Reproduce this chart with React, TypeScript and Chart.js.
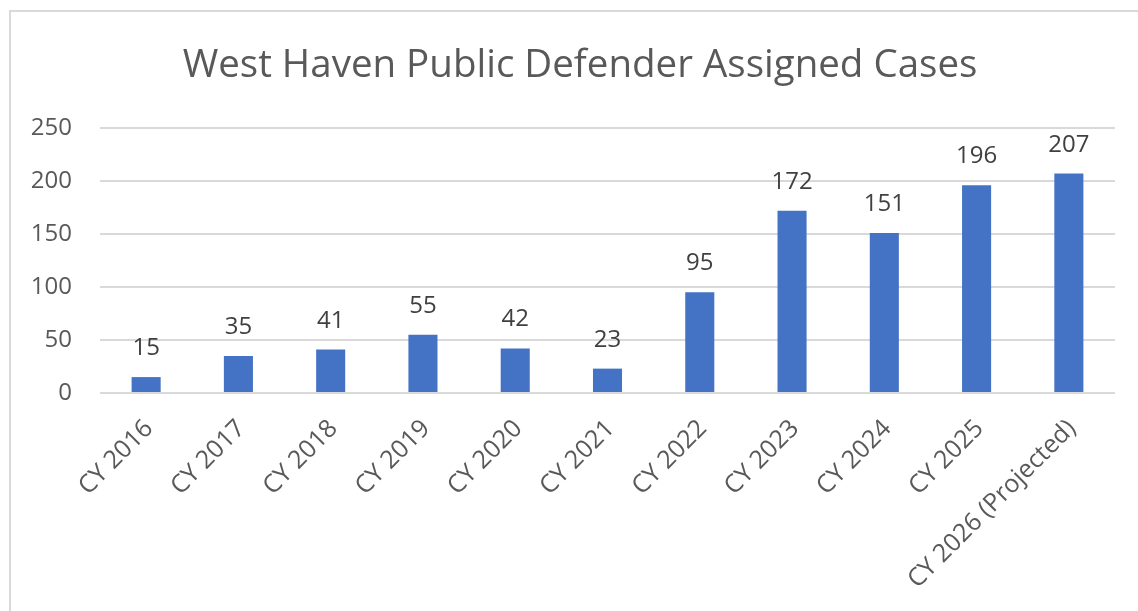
import React, { useEffect, useRef } from "react";
import { Chart, registerables } from "chart.js";

Chart.register(...registerables);

const titleText = "West Haven Public Defender Assigned Cases";
const categories = [
  "CY 2016",
  "CY 2017",
  "CY 2018",
  "CY 2019",
  "CY 2020",
  "CY 2021",
  "CY 2022",
  "CY 2023",
  "CY 2024",
  "CY 2025",
  "CY 2026 (Projected)",
];
const assignedCases = [15, 35, 41, 55, 42, 23, 95, 172, 151, 196, 207];
const yMin = 0;
const yMax = 250;
const yStep = 50;

const FONT = "'Open Sans', 'DejaVu Sans', sans-serif";

export default function App() {
  const ref = useRef<HTMLCanvasElement | null>(null);

  useEffect(() => {
    if (!ref.current) return;
    const titlePlugin = {
      id: "customTitle",
      afterDraw(chart: any) {
        const ctx = chart.ctx;
        ctx.save();
        ctx.font = `38.5px ${FONT}`;
        ctx.fillStyle = "#595959";
        ctx.textAlign = "center";
        ctx.textBaseline = "alphabetic";
        ctx.fillText(titleText, 580, 77);
        ctx.restore();
      },
    };
    const labelPlugin = {
      id: "barLabels",
      afterDatasetsDraw(chart: any) {
        const ctx = chart.ctx;
        const meta = chart.getDatasetMeta(0);
        ctx.save();
        ctx.font = `24px ${FONT}`;
        ctx.fillStyle = "#404040";
        ctx.textAlign = "center";
        ctx.textBaseline = "alphabetic";
        meta.data.forEach((bar: any, i: number) => {
          ctx.fillText(String(chart.data.datasets[0].data[i]), bar.x, bar.y - 22);
        });
        ctx.restore();
      },
    };
    const chart = new Chart(ref.current, {
      type: "bar",
      data: {
        labels: categories,
        datasets: [
          {
            label: "Assigned Cases",
            data: assignedCases,
            backgroundColor: "#4472C4",
            borderWidth: 0,
            barPercentage: 0.315,
            categoryPercentage: 1,
          },
        ],
      },
      options: {
        responsive: false,
        animation: false,
        layout: { padding: { top: 128, left: 0, right: 23, bottom: 0 } },
        plugins: {
          legend: { display: false },
          title: { display: false },
          tooltip: { enabled: false },
        },
        scales: {
          x: {
            grid: { display: false, drawTicks: false },
            border: { display: false },
            ticks: {
              color: "#595959",
              font: { family: FONT, size: 25 },
              minRotation: 45,
              maxRotation: 45,
              padding: 21,
              labelOffset: 3,
              autoSkip: false,
            },
            afterFit(scale: any) {
              scale.height = 218;
            },
          },
          y: {
            min: yMin,
            max: yMax,
            grid: { color: "#d9d9d9", lineWidth: 2, drawTicks: false },
            border: { display: false },
            ticks: {
              stepSize: yStep,
              color: "#595959",
              font: { family: FONT, size: 24 },
              padding: 28,
            },
            afterFit(scale: any) {
              scale.width = 100;
            },
          },
        },
      },
      plugins: [titlePlugin, labelPlugin],
    });
    return () => chart.destroy();
  }, []);

  return (
    <div
      style={{
        position: "fixed",
        left: 0,
        top: 0,
        width: 1138,
        height: 611,
        background: "#ffffff",
        overflow: "hidden",
      }}
    >
      <div
        style={{
          position: "absolute",
          left: 9,
          top: 10,
          width: 1140,
          height: 610,
          border: "2px solid #d9d9d9",
          boxSizing: "border-box",
        }}
      />
      <canvas
        ref={ref}
        width={1138}
        height={611}
        style={{ position: "absolute", left: 0, top: 0 }}
      />
    </div>
  );
}
